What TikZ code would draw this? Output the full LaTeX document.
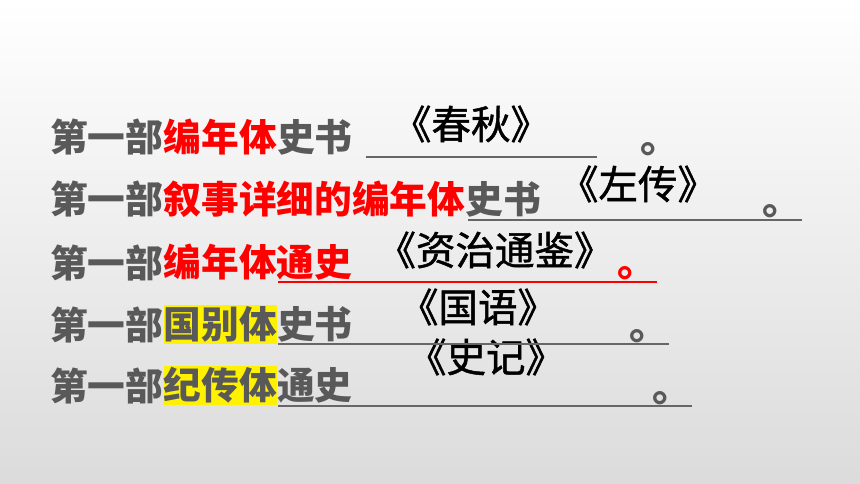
\documentclass[tikz,border=0pt]{standalone}
\usepackage{fontspec}
\usetikzlibrary{positioning}
\newfontfamily\cjk{Noto Sans CJK SC}
\newfontfamily\cjkbook[FakeBold=1.2]{Noto Sans CJK SC}
\definecolor{txtgray}{HTML}{595959}
\definecolor{linegray}{HTML}{666666}
\tikzset{
    lead/.style={
        inner sep=0pt,
        text=txtgray,
        font=\cjk\bfseries\fontsize{37.7}{37.7}\selectfont
    },
    key/.style={lead, text=red},
    hl/.style={lead, fill=yellow, inner ysep=1.5pt},
    book/.style={inner sep=0pt, font=\cjkbook\fontsize{39.5}{39.5}\selectfont},
    uline/.style={draw=linegray, line width=1.5pt},
    period/.style={lead, anchor=center, font=\cjk\bfseries\fontsize{40}{40}\selectfont}
}
\begin{document}
\begin{tikzpicture}[x=1pt, y=-1pt]

    % fondo
    \shade[top color=white, bottom color=black!14] (0,0) rectangle (860,484);

    % Linha 1
    \node[lead, anchor=base west] (r1a) at (50,152) {第一部};
    \node[key, right=0pt of r1a] (r1b) {编年体};
    \node[lead, right=0pt of r1b] (r1c) {史书};

    % Linha 2
    \node[lead, anchor=base west] (r2a) at (50,214) {第一部};
    \node[key, right=0pt of r2a] (r2b) {叙事详细的编年体};
    \node[lead, right=0pt of r2b] (r2c) {史书};

    % Linha 3
    \node[lead, anchor=base west] (r3a) at (50,277) {第一部};
    \node[key, right=0pt of r3a] (r3b) {编年体通史};

    % Linha 4
    \node[lead, anchor=base west] (r4a) at (50,339) {第一部};
    \node[hl, right=0pt of r4a] (r4b) {国别体};
    \node[lead, right=0pt of r4b] (r4c) {史书};

    % Linha 5
    \node[lead, anchor=base west] (r5a) at (50,400) {第一部};
    \node[hl, right=0pt of r5a] (r5b) {纪传体};
    \node[lead, right=0pt of r5b] (r5c) {通史};

    % respostas
    \node[book] (b1) at (471,124) {《春秋》};
    \node[book] (b2) at (638,184) {《左传》};
    \node[book] (b3) at (495,250) {《资治通鉴》};
    \node[book] (b4) at (478,307) {《国语》};
    \node[book] (b5) at (486,357) {《史记》};

    % linhas
    \coordinate (u1) at (366,157); \coordinate (v1) at (597,157);
    \coordinate (u2) at (468,220); \coordinate (v2) at (802,220);
    \coordinate (u3) at (278,282); \coordinate (v3) at (657,282);
    \coordinate (u4) at (278,344); \coordinate (v4) at (669,344);
    \coordinate (u5) at (278,406); \coordinate (v5) at (692,406);
    \draw[uline] (u1) -- (v1);
    \draw[uline] (u2) -- (v2);
    \draw[uline, draw=red] (u3) -- (v3);
    \draw[uline] (u4) -- (v4);
    \draw[uline] (u5) -- (v5);

    % pontos finais
    \node[period] (p1) at (660,149) {。};
    \node[period] (p2) at (782,211) {。};
    \node[period, text=red] (p3) at (637,273) {。};
    \node[period] (p4) at (649,336) {。};
    \node[period] (p5) at (672,398) {。};

\end{tikzpicture}
\end{document}
